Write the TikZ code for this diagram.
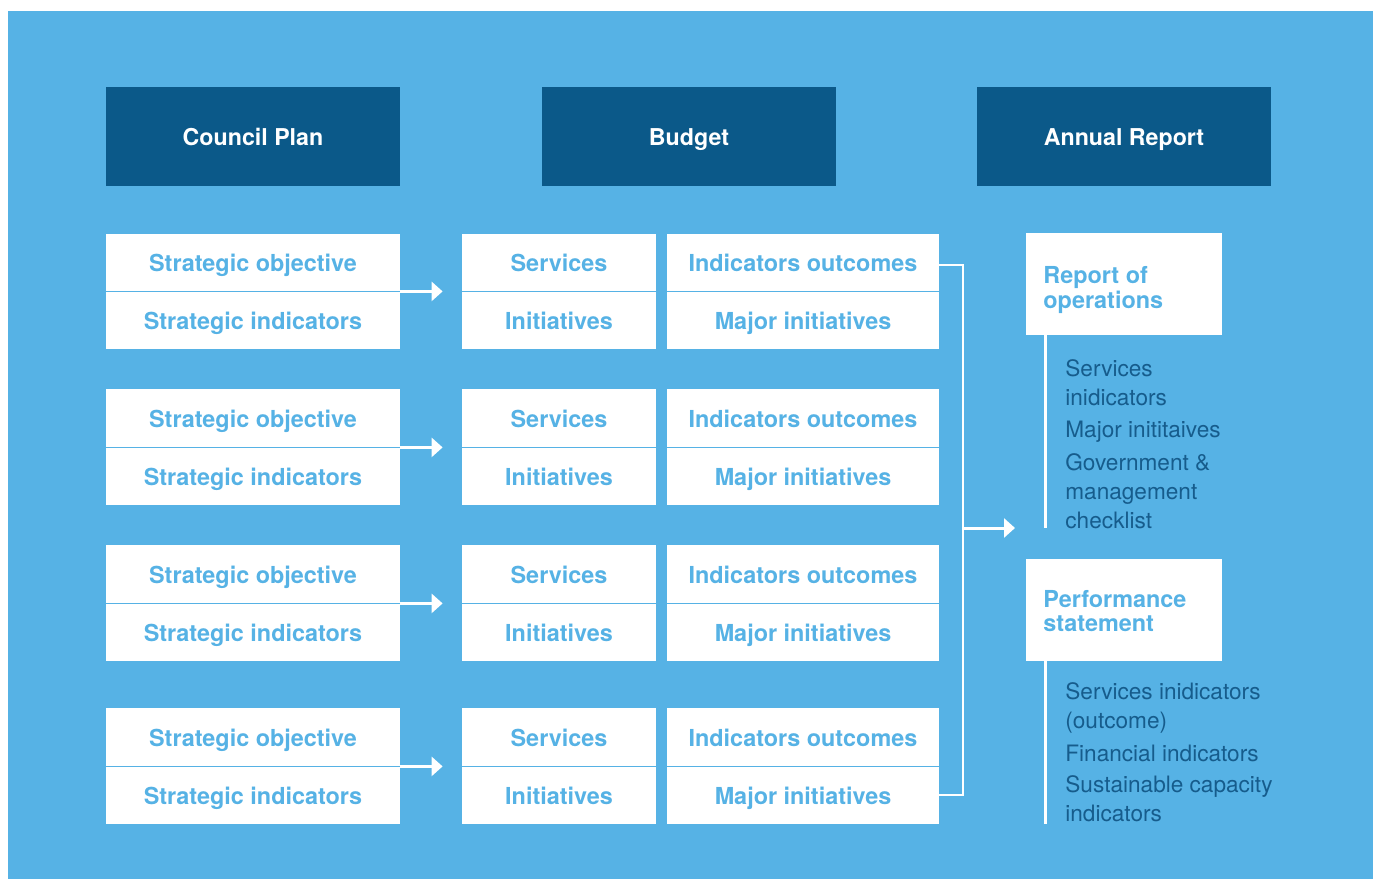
\documentclass[tikz,border=0pt]{standalone}
\usepackage{fontspec}
\setmainfont{TeX Gyre Heros}
\usetikzlibrary{arrows.meta}
\definecolor{bgblue}{RGB}{86,178,229}
\definecolor{hdblue}{RGB}{11,89,137}
\definecolor{txdark}{RGB}{22,92,140}
\begin{document}
\begin{tikzpicture}[x=0.5pt,y=-0.5pt,
 hdr/.style={fill=hdblue,text=white,font=\fontsize{11.6}{14}\selectfont\bfseries,minimum width=147pt,minimum height=49.5pt,inner sep=0pt,text height=8.9pt,text depth=0pt},
 cell/.style={fill=white,text=bgblue,font=\fontsize{11.7}{14}\selectfont\bfseries,inner sep=0pt,text height=9.4pt,text depth=0pt},
 sect/.style={fill=white,minimum width=98pt,minimum height=51pt,inner sep=0pt},
 secttxt/.style={text=bgblue,align=left,inner sep=0pt,anchor=north west},
 lst/.style={text=txdark,font=\fontsize{11.3}{14.5}\selectfont,align=left,inner sep=0pt,anchor=north west},
 divl/.style={draw=bgblue,line width=0.8pt},
 arr/.style={draw=white,line width=1.5pt,-{Triangle[length=5.5pt,width=9.5pt]}},
 brk/.style={draw=white,line width=1.2pt},
 vl/.style={draw=white,line width=1.3pt}]
\useasboundingbox (0,0) rectangle (1373,879);
\fill[white] (0,0) rectangle (1373,879);
\fill[bgblue] (8,11) rectangle (1373,879);
% headers
\node[hdr] (cp) at (253,136.5) {Council Plan};
\node[hdr] (bu) at (689,136.5) {Budget};
\node[hdr] (ar) at (1124,136.5) {Annual Report};
% rows
\foreach \n/\ra/\rd/\rb in {1/234/291/349,2/389/447/505,3/545/603/661,4/708/766/824}{
 \node[cell,minimum width=147pt,minimum height={(\rd-\ra)*0.5pt}] (so\n) at (253,{(\ra+\rd)/2}) {Strategic objective};
 \node[cell,minimum width=147pt,minimum height={(\rb-\rd)*0.5pt}] (si\n) at (253,{(\rd+\rb)/2}) {Strategic indicators};
 \node[cell,minimum width=97pt,minimum height={(\rd-\ra)*0.5pt}] (sv\n) at (559,{(\ra+\rd)/2}) {Services};
 \node[cell,minimum width=97pt,minimum height={(\rb-\rd)*0.5pt}] (in\n) at (559,{(\rd+\rb)/2}) {Initiatives};
 \node[cell,minimum width=136pt,minimum height={(\rd-\ra)*0.5pt}] (io\n) at (803,{(\ra+\rd)/2}) {Indicators outcomes};
 \node[cell,minimum width=136pt,minimum height={(\rb-\rd)*0.5pt}] (mi\n) at (803,{(\rd+\rb)/2}) {Major initiatives};
 \draw[divl] (so\n.south west) -- (so\n.south east);
 \draw[divl] (sv\n.south west) -- (sv\n.south east);
 \draw[divl] (io\n.south west) -- (io\n.south east);
 \draw[arr,shorten >=9.5pt] (so\n.south east) -- (sv\n.south west);
}
% bracket
\coordinate (bx) at (963,0);
\coordinate (bm) at (963,528);
\coordinate (bt) at (1015,528);
\draw[brk] ([yshift=-1.25pt]io1.east) -- ([yshift=-1.25pt]io1.east -| bx) -- (mi4.east -| bx) -- (mi4.east);
\draw[arr] (bm) -- (bt);
% right column
\node[sect] (rep) at (1124,284) {};
\node[secttxt,font=\fontsize{11.7}{10.8}\selectfont\bfseries] (rept) at (1043,266.5) {Report of\\operations};
\draw[vl] ([xshift=10pt]rep.south west) -- ++(0,193);
\node[lst] (repl) at (1065,359.5) {Services\\inidicators\\[1.6pt]Major inititaives\\[1.6pt]Government \&\\management\\checklist};
\node[sect] (perf) at (1124,610) {};
\node[secttxt,font=\fontsize{11.7}{12}\selectfont\bfseries] (perft) at (1043,590.5) {Performance\\statement};
\draw[vl] ([xshift=10pt]perf.south west) -- ++(0,163);
\node[lst] (perfl) at (1065,682.5) {Services inidicators\\(outcome)\\[1.8pt]Financial indicators\\[1.3pt]Sustainable capacity\\indicators};
\end{tikzpicture}
\end{document}
